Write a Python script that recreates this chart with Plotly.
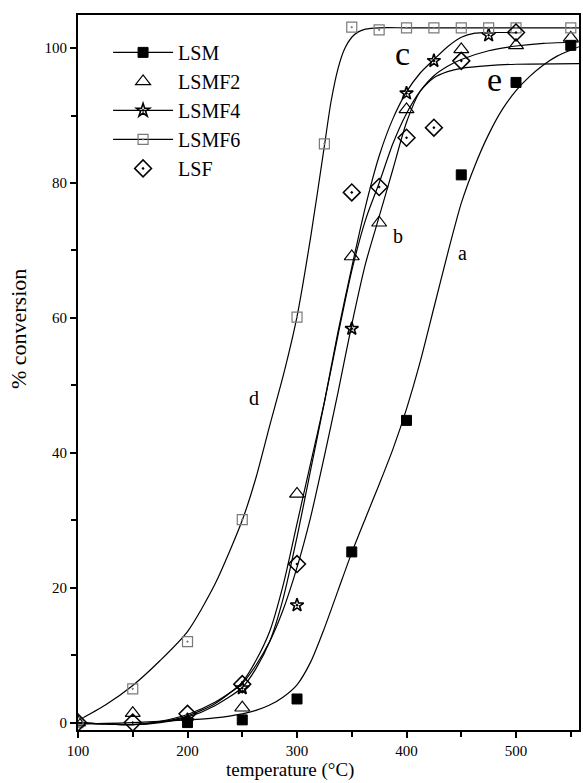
import plotly.graph_objects as go

# ---- measured data points ----
temp_lsm = [200, 250, 300, 350, 400, 450, 500, 550]
conv_lsm = [0.0, 0.4, 3.5, 25.3, 44.8, 81.2, 94.9, 100.4]

temp_lsmf2 = [100, 150, 250, 300, 350, 375, 400, 450, 500, 550]
conv_lsmf2 = [0.0, 1.4, 2.2, 33.9, 69.1, 74.1, 90.9, 99.8, 100.4, 101.5]

temp_lsmf4 = [200, 250, 300, 350, 400, 425, 475]
conv_lsmf4 = [0.2, 5.1, 17.4, 58.4, 93.3, 98.1, 101.9]

temp_lsmf6 = [100, 150, 200, 250, 300, 325, 350, 375, 400, 425, 450, 475, 500, 550]
conv_lsmf6 = [0.0, 5.0, 12.0, 30.1, 60.1, 85.8, 103.1, 102.7, 103.0, 103.0, 103.0, 103.0, 103.0, 103.0]

temp_lsf = [100, 150, 200, 250, 300, 350, 375, 400, 425, 450, 500]
conv_lsf = [0.0, 0.0, 1.3, 5.7, 23.5, 78.6, 79.4, 86.7, 88.2, 98.1, 102.3]

# ---- fitted curves ----
fit_a_t = [100, 150, 200, 225, 250, 262.5, 275, 287.5, 300, 312.5, 325, 337.5, 350, 362.5, 375,
           387.5, 400, 412.5, 425, 437.5, 450, 462.5, 475, 487.5, 500, 512.5, 525, 537.5, 550, 557.5]
fit_a_v = [-0.2, 0.0, 0.4, 0.7, 1.3, 1.8, 2.6, 3.8, 5.6, 9.0, 14.0, 19.6, 25.2, 30.3, 35.3,
           40.5, 46.5, 53.5, 61.5, 69.5, 77.0, 82.6, 87.2, 90.9, 93.7, 95.8, 97.5, 98.8, 99.7, 100.2]

fit_b_t = [100, 125, 150, 175, 200, 225, 250, 262.5, 275, 287.5, 300, 312.5, 325, 337.5, 350,
           362.5, 375, 387.5, 400, 412.5, 425, 437.5, 450, 475, 500, 525, 557.5]
fit_b_v = [0.0, -0.2, -0.3, 0.1, 1.0, 2.8, 6.0, 9.2, 13.5, 20.5, 29.5, 38.5, 47.5, 57.5, 67.0,
           74.5, 80.0, 85.8, 90.3, 93.6, 95.9, 97.3, 98.3, 99.6, 100.3, 100.7, 100.9]

fit_c_t = [100, 150, 175, 200, 225, 250, 262.5, 275, 287.5, 300, 312.5, 325, 337.5, 350, 362.5,
           375, 387.5, 400, 412.5, 425, 437.5, 450, 462.5, 475, 500]
fit_c_v = [0.0, -0.3, 0.0, 0.8, 2.5, 5.2, 8.0, 12.0, 18.5, 27.5, 37.5, 47.5, 58.0, 67.5, 76.5,
           84.0, 89.5, 93.5, 96.3, 98.3, 100.2, 101.6, 102.2, 102.3, 102.3]

fit_d_t = [100, 125, 150, 175, 200, 225, 250, 262.5, 275, 287.5, 300, 312.5, 325, 331, 337.5,
           343.5, 350, 356, 362.5, 375, 400, 450, 500, 557.5]
fit_d_v = [0.3, 2.6, 5.5, 9.2, 13.5, 20.5, 30.0, 36.3, 44.0, 51.5, 60.2, 72.0, 85.5, 92.0, 97.0,
           99.9, 101.6, 102.4, 102.8, 103.0, 103.0, 103.0, 103.0, 103.0]

fit_e_t = [100, 150, 175, 200, 225, 250, 262.5, 275, 287.5, 300, 312.5, 325, 337.5, 350, 362.5,
           375, 387.5, 400, 412.5, 425, 437.5, 450, 475, 500, 557.5]
fit_e_v = [0.0, -0.3, 0.2, 1.2, 3.0, 5.8, 8.5, 12.0, 16.8, 23.0, 30.5, 39.5, 49.0, 59.0, 68.0,
           75.0, 82.0, 89.0, 93.6, 95.6, 96.5, 97.0, 97.4, 97.6, 97.7]

curve_labels = ["a", "b", "c", "d", "e"]
curve_label_t = [451.1, 392.3, 396.2, 261.1, 480.5]
curve_label_v = [69.6, 72.1, 99.2, 48.1, 95.4]
curve_label_size = [20, 20, 34, 20, 34]

x_title = "temperature (°C)"
y_title = "% conversion"

FONT = "Liberation Serif, Times New Roman, serif"
GRAY = "#7a7a7a"

fig = go.Figure()

for t, v in [(fit_a_t, fit_a_v), (fit_b_t, fit_b_v), (fit_c_t, fit_c_v),
             (fit_d_t, fit_d_v), (fit_e_t, fit_e_v)]:
    fig.add_trace(go.Scatter(x=t, y=v, mode="lines", showlegend=False,
                             line=dict(color="black", width=1.2, shape="spline", smoothing=0.7),
                             hoverinfo="skip"))

m_lsm = dict(symbol="square", size=10, color="black", line=dict(color="black", width=1))
m_f2 = dict(symbol="triangle-up-open", size=13, color="black", line=dict(color="black", width=1.2))
m_f4 = dict(symbol="star-open-dot", size=10, color="black", line=dict(color="black", width=1.6))
m_f6 = dict(symbol="square-open-dot", size=10, color=GRAY, line=dict(color=GRAY, width=1.2))
m_lsf = dict(symbol="diamond-open-dot", size=13, color="black", line=dict(color="black", width=1.5))

for t, v, m in [(temp_lsm, conv_lsm, m_lsm), (temp_lsmf2, conv_lsmf2, m_f2),
                (temp_lsmf4, conv_lsmf4, m_f4), (temp_lsmf6, conv_lsmf6, m_f6),
                (temp_lsf, conv_lsf, m_lsf)]:
    fig.add_trace(go.Scatter(x=t, y=v, mode="markers", marker=m, showlegend=False))

# legend entries
for name, m, mode in [("LSM", m_lsm, "lines+markers"), ("LSMF2", m_f2, "markers"),
                      ("LSMF4", m_f4, "lines+markers"), ("LSMF6", m_f6, "lines+markers"),
                      ("LSF", m_lsf, "markers")]:
    fig.add_trace(go.Scatter(x=[None], y=[None], mode=mode, name=name, marker=m,
                             line=dict(color="black", width=1.2)))

for lab, t, v, s in zip(curve_labels, curve_label_t, curve_label_v, curve_label_size):
    fig.add_annotation(x=t, y=v, text=lab, showarrow=False, xanchor="center", yanchor="middle",
                       font=dict(family=FONT, size=s, color="black"))

# axis titles (placed as in the reference, off-centre)
fig.add_annotation(xref="paper", yref="paper", x=0.4235, y=-0.0727, text=x_title,
                   showarrow=False, xanchor="center", yanchor="bottom", borderpad=0,
                   font=dict(family=FONT, size=19, color="black"))
fig.add_annotation(xref="paper", yref="paper", x=-0.1173, y=0.561, text=y_title,
                   showarrow=False, xanchor="center", yanchor="middle", textangle=-90,
                   font=dict(family=FONT, size=22, color="black"))

axis_common = dict(showline=True, linewidth=2, linecolor="black", mirror=True,
                   ticks="outside", ticklen=6, tickwidth=2, tickcolor="black",
                   showgrid=False, zeroline=False,
                   tickfont=dict(family=FONT, size=15, color="black"))

fig.update_xaxes(range=[100, 557.5], tickvals=[100, 200, 300, 400, 500],
                 minor=dict(tickvals=[150, 250, 350, 450, 550], ticks="outside", ticklen=5,
                            tickwidth=2, tickcolor="black"),
                 **axis_common)
fig.update_yaxes(range=[-1.1, 104.9], tickvals=[0, 20, 40, 60, 80, 100],
                 minor=dict(tickvals=[10, 30, 50, 70, 90], ticks="outside", ticklen=5,
                            tickwidth=2, tickcolor="black"),
                 **axis_common)

fig.update_layout(width=583, height=783, margin=dict(l=78, r=2, t=15, b=53),
                  plot_bgcolor="white", paper_bgcolor="white",
                  font=dict(family=FONT, color="black"),
                  legend=dict(x=0.06, y=0.975, xanchor="left", yanchor="top",
                              bgcolor="rgba(0,0,0,0)", font=dict(family=FONT, size=20),
                              itemwidth=60, tracegroupgap=0))

fig.write_html("out.html")
